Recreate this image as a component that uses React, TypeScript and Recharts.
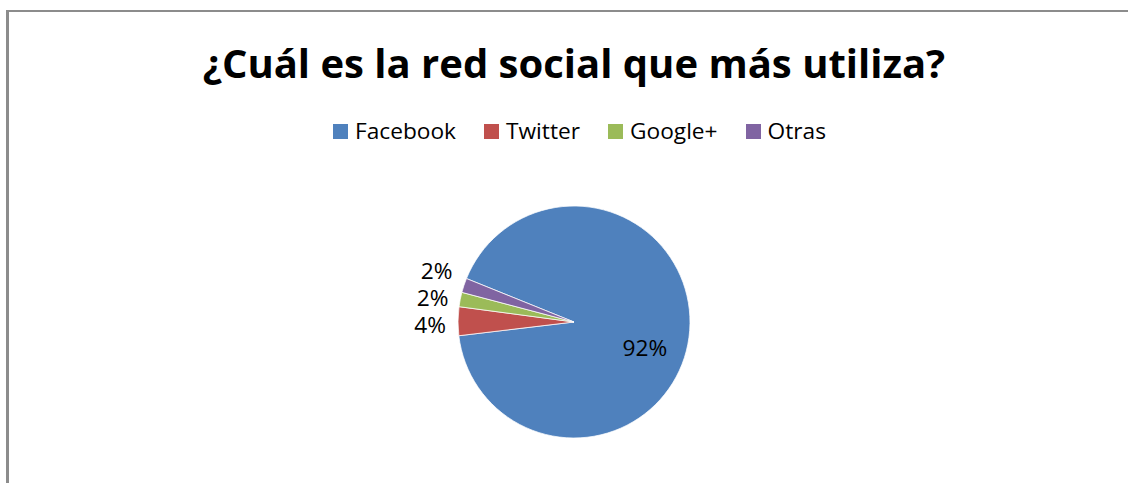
import React from 'react';
import { PieChart, Pie, Cell, Legend } from 'recharts';

const categories = ['Facebook', 'Twitter', 'Google+', 'Otras'];
const shares = [92, 4, 2, 2];
const colors = ['#4F81BD', '#C0504D', '#9BBB59', '#8064A2'];
const title = '¿Cuál es la red social que más utiliza?';

const data = categories.map((name, i) => ({ name, value: shares[i] }));

const FONT = '"Open Sans", sans-serif';
const CX = 574;
const CY = 322;
const R = 116;
const START = 158;
const LABEL_GAP = 27;
const RAD = Math.PI / 180;

// mid angles of every slice, walking clockwise from START
const total = shares.reduce((a, b) => a + b, 0);
const midAngles: number[] = [];
{
    let a = START;
    shares.forEach((v) => {
        const sweep = (v / total) * 360;
        midAngles.push(a - sweep / 2);
        a -= sweep;
    });
}

// small slices get their label outside, spread so they don't collide
const outside = shares.map((v) => v / total < 0.1);
const labelY: Record<number, number> = {};
{
    const idx = shares.map((_, i) => i).filter((i) => outside[i]);
    const natural = idx.map((i) => ({ i, y: CY - (R + 10) * Math.sin(midAngles[i] * RAD) }));
    natural.sort((a, b) => a.y - b.y);
    const mid = Math.floor(natural.length / 2);
    natural.forEach((n, k) => {
        labelY[n.i] = natural[mid].y + (k - mid) * LABEL_GAP;
    });
}

const renderLabel = (props: any) => {
    const { index, percent } = props;
    const text = `${Math.round(percent * 100)}%`;
    const ang = midAngles[index];
    if (outside[index]) {
        const x = CX + (R + 12) * Math.cos(ang * RAD);
        return (
            <text x={x} y={labelY[index]} textAnchor="end" dominantBaseline="central"
                fill="#000" fontSize={22.7} fontFamily={FONT}>
                {text}
            </text>
        );
    }
    const a = (ang - 12.4) * RAD;
    const x = CX + R * 0.65 * Math.cos(a);
    const y = CY - R * 0.65 * Math.sin(a);
    return (
        <text x={x} y={y} textAnchor="middle" dominantBaseline="central"
            fill="#000" fontSize={22.7} fontFamily={FONT}>
            {text}
        </text>
    );
};

const renderLegend = () => (
    <div style={{ display: 'flex', justifyContent: 'center', alignItems: 'center', fontFamily: FONT, fontSize: 22.7, lineHeight: 1, paddingLeft: 31 }}>
        {categories.map((c, i) => (
            <div key={c} style={{ display: 'flex', alignItems: 'center', marginLeft: i === 0 ? 0 : 28 }}>
                <span style={{ width: 15, height: 15, background: colors[i], marginRight: 7, display: 'inline-block' }} />
                <span style={{ color: '#000' }}>{c}</span>
            </div>
        ))}
    </div>
);

export default function App() {
    return (
        <div style={{ position: 'absolute', left: 0, top: 0, width: 1128, height: 483, overflow: 'hidden', background: '#fff' }}>
            <div style={{
                position: 'absolute', left: 6, top: 10, width: 1200, height: 600,
                borderLeft: '3px solid #8c8c8c', borderTop: '2px solid #8c8c8c',
            }} />
            <svg width={1128} height={100} style={{ position: 'absolute', left: 0, top: 0 }}>
                <text x={574} y={78} textAnchor="middle" fontFamily={FONT} fontWeight={700} fontSize={40} fill="#000">
                    {title}
                </text>
            </svg>
            <div style={{ position: 'absolute', left: 0, top: 0 }}>
                <PieChart width={1128} height={483} margin={{ top: 0, right: 0, bottom: 0, left: 0 }}>
                    <Legend content={renderLegend} wrapperStyle={{ position: 'absolute', top: 120, left: 0, width: 1128 }} />
                    <Pie
                        data={data}
                        dataKey="value"
                        nameKey="name"
                        cx={CX}
                        cy={CY}
                        outerRadius={R}
                        startAngle={START}
                        endAngle={START - 360}
                        stroke="#ffffff"
                        strokeWidth={0.75}
                        label={renderLabel}
                        labelLine={false}
                        isAnimationActive={false}
                    >
                        {data.map((d, i) => (
                            <Cell key={d.name} fill={colors[i]} />
                        ))}
                    </Pie>
                </PieChart>
            </div>
        </div>
    );
}
